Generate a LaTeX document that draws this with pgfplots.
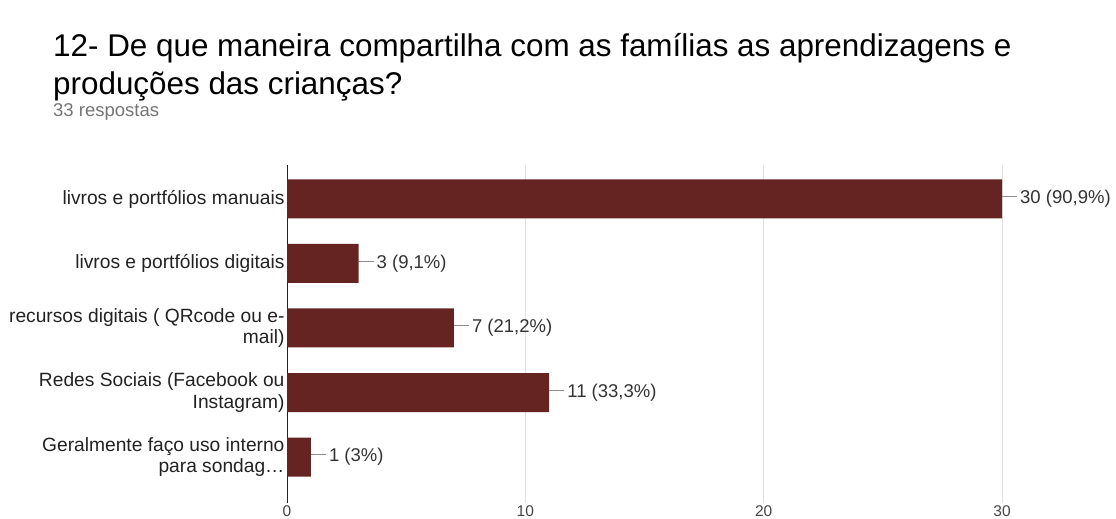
\documentclass[border=0pt]{standalone}
\usepackage{pgfplots}
\pgfplotsset{compat=1.18}
\usepackage{pgfplotstable}
\usepackage{fontspec}
\setmainfont{Liberation Sans}

\definecolor{barcol}{RGB}{101,35,33}
\definecolor{gridcol}{RGB}{225,225,225}
\definecolor{txt}{RGB}{34,34,34}
\definecolor{valtxt}{RGB}{51,51,51}
\definecolor{subtxt}{RGB}{117,117,117}
\definecolor{ticktxt}{RGB}{68,68,68}

% answers, top category has the highest y
\pgfplotstableread[col sep=semicolon]{
x;y;lab
30;4;30 (90,9\%)
3;3;3 (9,1\%)
7;2;7 (21,2\%)
11;1;11 (33,3\%)
1;0;1 (3\%)
}\respostas

\begin{document}
\begin{tikzpicture}
\path[use as bounding box] (0pt,0pt) rectangle (1116pt,519pt);

\node[anchor=base west, inner sep=0pt, text=black, font=\fontsize{31.4}{36}\selectfont]
  at (53pt,462pt) {12- De que maneira compartilha com as famílias as aprendizagens e};
\node[anchor=base west, inner sep=0pt, text=black, font=\fontsize{31.4}{36}\selectfont]
  at (53pt,424pt) {produções das crianças?};
\node[anchor=base west, inner sep=0pt, text=subtxt, font=\fontsize{18.5}{21}\selectfont]
  at (53pt,402pt) {33 respostas};

\begin{axis}[
    at={(287pt,16pt)}, anchor=south west,
    scale only axis,
    width=715pt, height=338pt,
    xbar, bar width=39pt,
    xmin=0, xmax=30,
    ymin=-0.713, ymax=4.527,
    clip=false,
    axis line style={draw=none},
    major tick length=0pt,
    xtick={10,20,30},
    extra x ticks={0},
    extra x tick style={grid style={draw=txt, line width=1pt}},
    xmajorgrids,
    grid style={draw=gridcol, line width=0.8pt},
    /pgf/number format/assume math mode=true,
    xticklabel style={font=\fontsize{15.5}{17}\selectfont, text=ticktxt, yshift=0pt, inner sep=2pt},
    ytick={0,1,2,3,4},
    yticklabels={Geralmente faço uso interno\\para sondag…,
                 Redes Sociais (Facebook ou\\Instagram),
                 recursos digitais ( QRcode ou e-\\mail),
                 livros e portfólios digitais,
                 livros e portfólios manuais},
    yticklabel style={align=right, font=\fontsize{19.2}{21.5}\selectfont, text=txt, xshift=1pt},
    point meta=explicit symbolic,
    nodes near coords={\textcolor{black!45}{\rule[0.36em]{15pt}{0.8pt}}\hspace{3pt}\pgfplotspointmeta},
    nodes near coords style={anchor=west, inner sep=0pt, font=\fontsize{18.5}{21}\selectfont, text=valtxt},
]
\addplot[fill=barcol, draw=none] table[x=x, y=y, meta=lab] {\respostas};
\end{axis}
\end{tikzpicture}
\end{document}
